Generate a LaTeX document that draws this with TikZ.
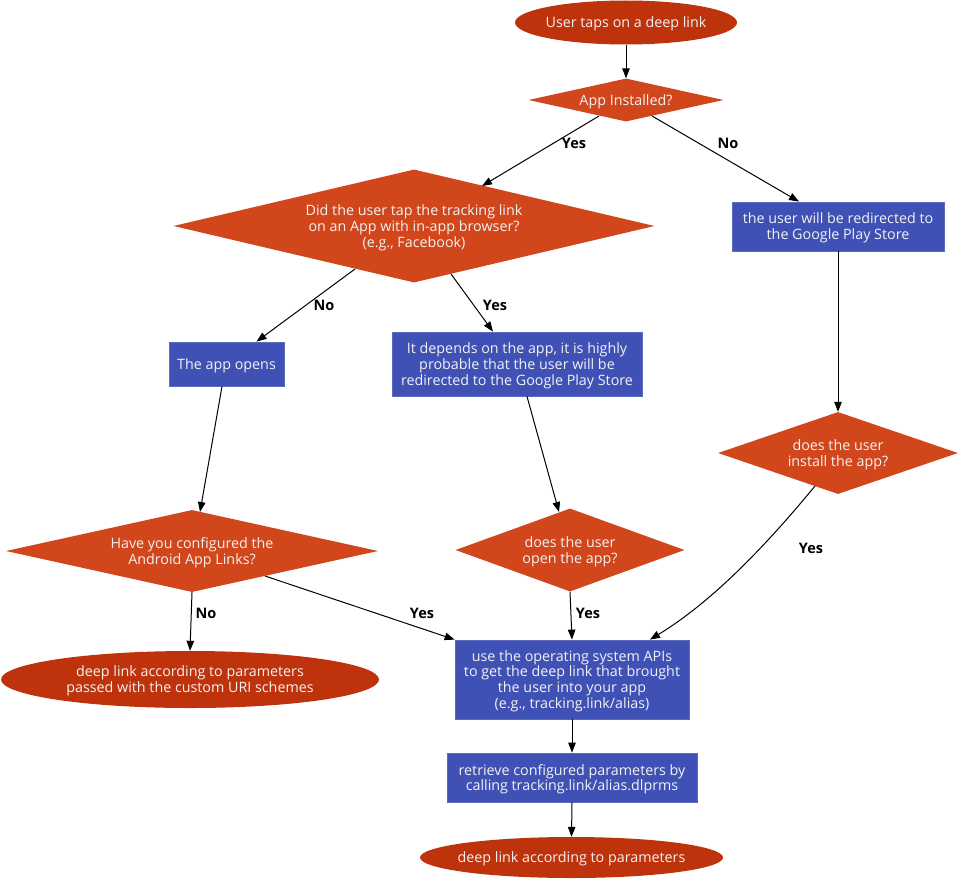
\documentclass[tikz,border=0pt]{standalone}
\usepackage{fontspec}
\setmainfont{Open Sans}
\usetikzlibrary{shapes.geometric,arrows.meta,calc}
\definecolor{ellred}{HTML}{BF330C}
\definecolor{diaorg}{HTML}{D2461C}
\definecolor{boxblue}{HTML}{3F51B5}
\definecolor{boxedge}{HTML}{5C6BC0}
\definecolor{txt}{HTML}{F2F2F2}
\begin{document}
\begin{tikzpicture}[x=1pt,y=-1pt,
  base/.style={text=txt, font=\fontsize{14.3pt}{15.9pt}\selectfont, align=center, inner sep=0pt, text depth=0pt},
  term/.style={base, ellipse, fill=ellred, inner xsep=-30pt},
  decision/.style={base, diamond, fill=diaorg},
  process/.style={base, rectangle, fill=boxblue, draw=boxedge, line width=0.8pt},
  lbl/.style={font=\fontsize{14.5pt}{16pt}\selectfont\bfseries, inner sep=0pt},
  arr/.style={-{Triangle[length=10pt,width=7.5pt]}, line width=1pt, black}]
\useasboundingbox (0,0) rectangle (960,880);
\fill[white] (0,0) rectangle (960,880);

% nodes
\node[term, minimum width=222pt, minimum height=44pt] (start) at (626,22.5) {User taps on a deep link};
\node[decision, shape aspect=4.5, minimum width=195pt, minimum height=43pt] (app) at (626,100) {App Installed?};
\node[decision, shape aspect=4.26, minimum width=481pt, minimum height=113pt] (did) at (414,226)
  {Did the user tap the tracking link\\ on an App with in-app browser?\\ (e.g., Facebook)};
\node[process, minimum width=212pt, minimum height=49pt] (gp) at (838,226.5)
  {the user will be redirected to\\ the Google Play Store};
\node[process, minimum width=115pt, minimum height=44pt] (opens) at (226.5,364) {The app opens};
\node[process, minimum width=250pt, minimum height=64pt] (depends) at (517,364)
  {It depends on the app, it is highly\\ probable that the user will be\\ redirected to the Google Play Store};
\node[decision, shape aspect=4.5, minimum width=372pt, minimum height=82pt] (have) at (192,551)
  {Have you configured the\\ Android App Links?};
\node[decision, shape aspect=2.76, minimum width=229pt, minimum height=83pt] (open) at (570,550)
  {does the user\\ open the app?};
\node[decision, shape aspect=2.93, minimum width=240pt, minimum height=82pt] (install) at (838,453)
  {does the user\\ install the app?};
\node[term, minimum width=378pt, minimum height=57pt] (uri) at (190,679.5)
  {deep link according to parameters\\ passed with the custom URI schemes};
\node[process, minimum width=234pt, minimum height=79pt] (apis) at (572,679.5)
  {use the operating system APIs\\ to get the deep link that brought\\ the user into your app\\ (e.g., tracking.link/alias)};
\node[process, minimum width=250pt, minimum height=49pt] (ret) at (572,777.5)
  {retrieve configured parameters by\\ calling tracking.link/alias.dlprms};
\node[term, minimum width=303pt, minimum height=41pt] (fin) at (571.5,857.5)
  {deep link according to parameters};

% edges
\draw[arr] (start.south) -- (app.north);
\draw[arr] ($(app.center)+(-27,16)$) -- ($(did.center)+(68,-40)$);
\draw[arr] ($(app.center)+(26,16)$) -- ($(gp.north)+(-39,0)$);
\draw[arr] ($(did.center)+(-59,43)$) -- ($(opens.north)+(30,0)$);
\draw[arr] ($(did.center)+(37,48)$) -- ($(depends.north)+(-24,0)$);
\draw[arr] ($(opens.south)+(-4.5,0)$) -- ($(have.center)+(8,-39)$);
\draw[arr] ($(depends.south)+(10,0)$) -- ($(open.center)+(-11,-38)$);
\draw[arr] (gp.south) -- (install.north);
\draw[arr] (have.south) -- (uri.north);
\draw[arr] ($(have.center)+(73,25)$) -- (apis.north west);
\draw[arr] (open.south) -- (apis.north);
\draw[arr] ($(install.center)+(-23,33)$) .. controls ($(install.center)+(-70,90)$) and ($(apis.north)+(142,-39)$) .. ($(apis.north)+(78,0)$);
\draw[arr] (apis.south) -- (ret.north);
\draw[arr] (ret.south) -- (fin.north);

% labels
\node[lbl] (l1) at (574,143) {Yes};
\node[lbl] (l2) at (728,143) {No};
\node[lbl] (l3) at (324,305) {No};
\node[lbl] (l4) at (495,305) {Yes};
\node[lbl] (l5) at (206,613) {No};
\node[lbl] (l6) at (422,613) {Yes};
\node[lbl] (l7) at (588,613) {Yes};
\node[lbl] (l8) at (811,548) {Yes};
\end{tikzpicture}
\end{document}
